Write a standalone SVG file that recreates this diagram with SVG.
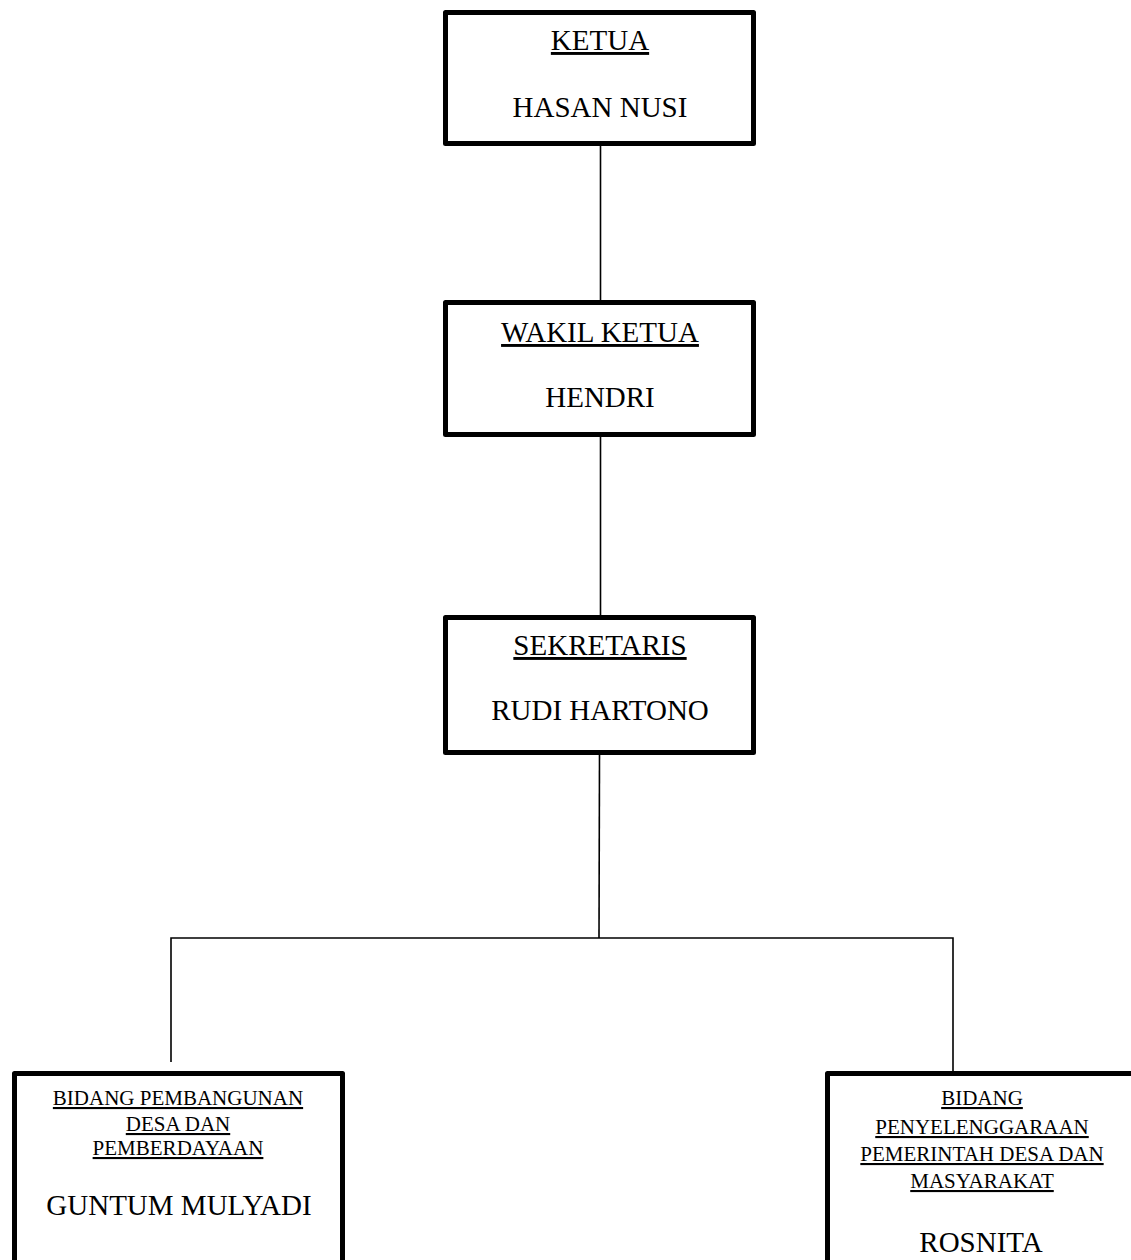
<svg xmlns="http://www.w3.org/2000/svg" width="1131" height="1260" viewBox="0 0 1131 1260">
<style>
.box{fill:#fff;stroke:#000;stroke-width:5;stroke-linejoin:round}
.t{font-family:"Liberation Serif","Times New Roman",serif;fill:#000;text-anchor:middle}
.big{font-size:29px}
.sm{font-size:21px}
.u{text-decoration:underline}
.c{stroke:#000;stroke-width:1.6;fill:none}
</style>
<rect width="1131" height="1260" fill="#fff"/>
<g id="connectors">
<line class="c" x1="600.5" y1="146" x2="600.5" y2="300"/>
<line class="c" x1="600.5" y1="437" x2="600.5" y2="615"/>
<line class="c" x1="599.5" y1="755" x2="599" y2="938"/>
<polyline class="c" points="171,1062 171,938 953,938 953,1071"/>
</g>
<g id="ketua">
<rect class="box" x="445.5" y="12.5" width="308" height="131"/>
<text class="t big u" x="600" y="50">KETUA</text>
<text class="t big" x="600" y="117">HASAN NUSI</text>
</g>
<g id="wakil">
<rect class="box" x="445.5" y="302.5" width="308" height="132"/>
<text class="t big u" x="600" y="342">WAKIL KETUA</text>
<text class="t big" x="600" y="407">HENDRI</text>
</g>
<g id="sekretaris">
<rect class="box" x="445.5" y="617.5" width="308" height="135"/>
<text class="t big u" x="600" y="655">SEKRETARIS</text>
<text class="t big" x="600" y="720">RUDI HARTONO</text>
</g>
<g id="bidang-pembangunan">
<rect class="box" x="14.5" y="1073.5" width="328" height="300"/>
<text class="t sm u" x="178" y="1105">BIDANG PEMBANGUNAN</text>
<text class="t sm u" x="178" y="1131">DESA DAN</text>
<text class="t sm u" x="178" y="1155">PEMBERDAYAAN</text>
<text class="t big" x="179" y="1215">GUNTUM MULYADI</text>
</g>
<g id="bidang-penyelenggaraan">
<rect class="box" x="827.5" y="1073.5" width="310" height="300"/>
<text class="t sm u" x="982" y="1105">BIDANG</text>
<text class="t sm u" x="982" y="1134">PENYELENGGARAAN</text>
<text class="t sm u" x="982" y="1161">PEMERINTAH DESA DAN</text>
<text class="t sm u" x="982" y="1188">MASYARAKAT</text>
<text class="t big" x="981" y="1252">ROSNITA</text>
</g>
</svg>
